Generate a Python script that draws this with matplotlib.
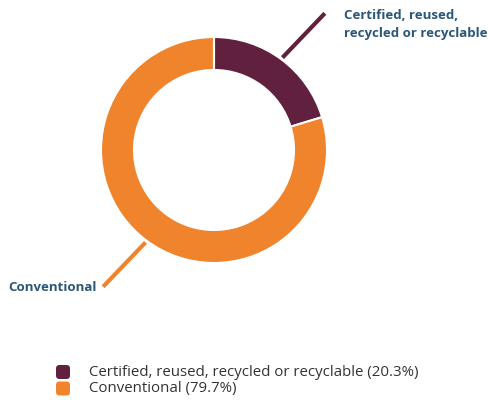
import matplotlib.pyplot as plt
import numpy as np
from matplotlib.patches import FancyBboxPatch

plt.rcParams['font.family'] = ['Open Sans', 'DejaVu Sans']

labels = ['Certified, reused,\nrecycled or recyclable', 'Conventional']
legend_names = ['Certified, reused, recycled or recyclable', 'Conventional']
shares = [20.3, 79.7]
colors = ['#62203f', '#f0842c']
label_color = '#2b5676'

fig = plt.figure(figsize=(4.89, 4.0), dpi=100)
ax = fig.add_axes([0, 0, 1, 1])

# donut in pixel-like units, y going up
cx, cy, r = 214, 250, 113
wedges, _ = ax.pie(shares, colors=colors, startangle=90, counterclock=False,
                   center=(cx, cy), radius=r,
                   wedgeprops=dict(width=33, edgecolor='white', linewidth=1.5))

# leader lines and outside labels
for i, w in enumerate(wedges):
    mid = (w.theta1 + w.theta2) / 2
    a0 = np.deg2rad(mid)
    a1 = np.deg2rad(mid - 2.5)
    x0, y0 = cx + (r + 2) * np.cos(a0), cy + (r + 2) * np.sin(a0)
    x1, y1 = cx + 176 * np.cos(a1), cy + 176 * np.sin(a1)
    ax.plot([x0, x1], [y0, y1], color=colors[i], lw=3, solid_capstyle='butt')
    if np.cos(a0) > 0:
        ax.text(x1 + 19, y1 - 11, labels[i], ha='left', va='center', fontsize=9.5,
                fontweight='bold', color=label_color, linespacing=1.45)
    else:
        ax.text(x1 - 7, y1 - 1, labels[i], ha='right', va='center', fontsize=9.5,
                fontweight='bold', color=label_color)

# legend with rounded swatches
for i, name in enumerate(legend_names):
    ly = 28 - i * 16.5
    ax.add_patch(FancyBboxPatch((56, ly - 7), 14, 14, boxstyle='round,pad=0,rounding_size=3.5',
                                facecolor=colors[i], edgecolor='none'))
    ax.text(89, ly, f'{name} ({shares[i]:.1f}%)', ha='left', va='center',
            fontsize=10.8, color='#333333')

ax.set_xlim(0, 489)
ax.set_ylim(0, 400)
ax.set_aspect('equal')
ax.axis('off')

fig.savefig('out.png', dpi=100)
